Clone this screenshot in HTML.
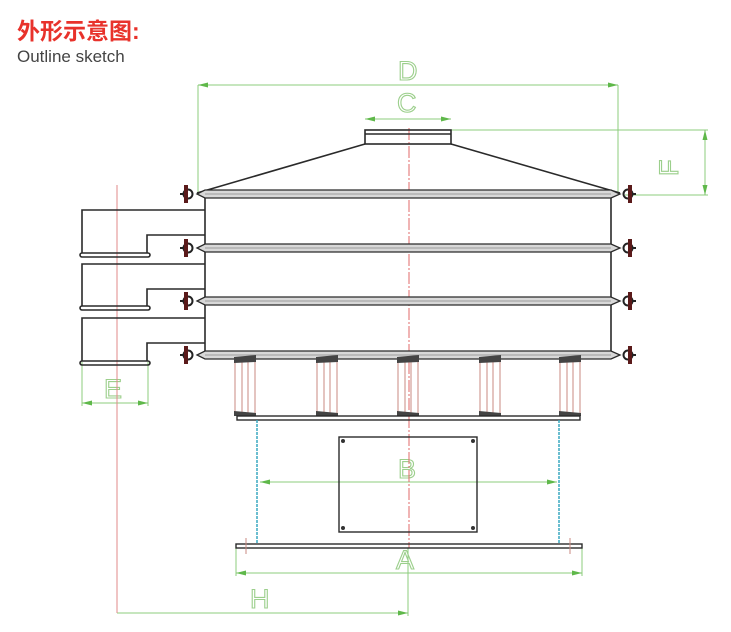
<!DOCTYPE html>
<html><head><meta charset="utf-8"><style>
html,body{margin:0;padding:0;background:#fff;width:731px;height:632px;overflow:hidden}
svg{display:block}
.t{font-family:"Liberation Sans","Noto Sans CJK SC",sans-serif}
.lbl{font-family:"Liberation Sans",sans-serif;font-size:27px;fill:none;stroke:#9ccf8c;stroke-width:1.1}
</style></head><body>
<svg width="731" height="632" viewBox="0 0 731 632" xmlns="http://www.w3.org/2000/svg">
<defs>
<marker id="ar" markerWidth="10" markerHeight="6" refX="10" refY="3" orient="auto-start-reverse" markerUnits="userSpaceOnUse"><path d="M0,0.5 L10,3 L0,5.5 Z" fill="#5fb84a"/></marker>
<g id="clampL"><circle cx="0" cy="0" r="4.5" fill="none" stroke="#222" stroke-width="2"/><rect x="-4" y="-9" width="4" height="18" fill="#5a1a1a"/><line x1="-8" y1="0" x2="-4" y2="0" stroke="#222" stroke-width="2"/></g>
<g id="spring"><rect x="-10" y="0" width="20" height="57" fill="none" stroke="#c98a80" stroke-width="1"/><line x1="-3" y1="0" x2="-3" y2="57" stroke="#c98a80"/><line x1="3" y1="0" x2="3" y2="57" stroke="#c98a80"/><path d="M-11,-1 L11,-3 L11,4 L-11,5 Z" fill="#444"/><path d="M-11,53 L11,55 L11,58 L-11,58 Z" fill="#444"/></g>
</defs>
<text x="17" y="39" class="t" font-size="23" font-weight="bold" fill="#e8322b">外形示意图:</text>
<text x="17" y="62" class="t" font-size="17" fill="#444">Outline sketch</text>

<g stroke="#8ccc7c" stroke-width="1" fill="none">
<line x1="198" y1="85" x2="198" y2="193"/><line x1="618" y1="85" x2="618" y2="193"/>
<line x1="198" y1="85" x2="618" y2="85" marker-start="url(#ar)" marker-end="url(#ar)"/>
<line x1="365" y1="119" x2="451" y2="119" marker-start="url(#ar)" marker-end="url(#ar)"/>
<line x1="451" y1="130" x2="708" y2="130"/><line x1="625" y1="195" x2="708" y2="195"/>
<line x1="705" y1="130" x2="705" y2="195" marker-start="url(#ar)" marker-end="url(#ar)"/>
<line x1="82" y1="362" x2="82" y2="406"/><line x1="148" y1="362" x2="148" y2="406"/>
<line x1="82" y1="403" x2="148" y2="403" marker-start="url(#ar)" marker-end="url(#ar)"/>
<line x1="260" y1="482" x2="557" y2="482" marker-start="url(#ar)" marker-end="url(#ar)"/>
<line x1="236" y1="548" x2="236" y2="576"/><line x1="582" y1="548" x2="582" y2="576"/>
<line x1="236" y1="573" x2="582" y2="573" marker-start="url(#ar)" marker-end="url(#ar)"/>
<line x1="408" y1="548" x2="408" y2="616"/>
<line x1="117" y1="613" x2="408" y2="613" marker-end="url(#ar)"/>
</g>
<text x="398" y="80" class="lbl">D</text>
<text x="397" y="112" class="lbl">C</text>
<text x="398" y="478" class="lbl">B</text>
<text x="396" y="569" class="lbl">A</text>
<text x="250" y="608" class="lbl">H</text>
<text x="104" y="398" class="lbl">E</text>
<text class="lbl" transform="translate(678,176) rotate(-90)">F</text>

<line x1="409" y1="128" x2="409" y2="548" stroke="#e06a6a" stroke-width="1" stroke-dasharray="12,2,2,2"/>
<line x1="117" y1="185" x2="117" y2="613" stroke="#e08a8a" stroke-width="1"/>

<g stroke="#2a2a2a" fill="none" stroke-width="1.6">
<rect x="365" y="130" width="86" height="14"/><line x1="365" y1="134" x2="451" y2="134"/>
<line x1="365" y1="144" x2="197" y2="193"/><line x1="451" y1="144" x2="620" y2="193"/>
<line x1="205" y1="193" x2="205" y2="355"/><line x1="611" y1="193" x2="611" y2="355"/>
</g>
<g stroke="#2a2a2a" stroke-width="1.3" fill="#d8d8d8">
<path d="M197,194 L205,190 L611,190 L620,194 L611,198 L205,198 Z"/>
<path d="M197,248 L205,244 L611,244 L620,248 L611,252 L205,252 Z"/>
<path d="M197,301 L205,297 L611,297 L620,301 L611,305 L205,305 Z"/>
<path d="M197,355 L205,351 L611,351 L620,355 L611,359 L205,359 Z"/>
</g>
<g stroke="#888" stroke-width="0.8"><line x1="205" y1="194" x2="611" y2="194"/><line x1="205" y1="248" x2="611" y2="248"/><line x1="205" y1="301" x2="611" y2="301"/><line x1="205" y1="355" x2="611" y2="355"/></g>
<g>
<use href="#clampL" transform="translate(188,194)"/><use href="#clampL" transform="translate(188,248)"/><use href="#clampL" transform="translate(188,301)"/><use href="#clampL" transform="translate(188,355)"/>
<use href="#clampL" transform="translate(628,194) scale(-1,1)"/><use href="#clampL" transform="translate(628,248) scale(-1,1)"/><use href="#clampL" transform="translate(628,301) scale(-1,1)"/><use href="#clampL" transform="translate(628,355) scale(-1,1)"/>
</g>

<g stroke="#2a2a2a" stroke-width="1.6" fill="none">
<path d="M205,210 L82,210 L82,253 M147,253 L147,235 L205,235"/>
<rect x="80" y="253" width="70" height="4" rx="2"/>
<path d="M205,264 L82,264 L82,306 M147,306 L147,289 L205,289"/>
<rect x="80" y="306" width="70" height="4" rx="2"/>
<path d="M205,318 L82,318 L82,361 M147,361 L147,343 L205,343"/>
<rect x="80" y="361" width="70" height="4" rx="2"/>
</g>

<use href="#spring" transform="translate(245,358)"/><use href="#spring" transform="translate(327,358)"/><use href="#spring" transform="translate(408,358)"/><use href="#spring" transform="translate(490,358)"/><use href="#spring" transform="translate(570,358)"/>

<g stroke="#2a2a2a" stroke-width="1.4" fill="none">
<rect x="237" y="416" width="343" height="4"/>
<rect x="236" y="544" width="346" height="4"/>
<rect x="339" y="437" width="138" height="95"/>
</g>
<g fill="#333"><circle cx="343" cy="441" r="2"/><circle cx="473" cy="441" r="2"/><circle cx="343" cy="528" r="2"/><circle cx="473" cy="528" r="2"/></g>
<g stroke="#3aa8c0" stroke-width="1.5" stroke-dasharray="3,1"><line x1="257" y1="420" x2="257" y2="544"/><line x1="559" y1="420" x2="559" y2="544"/></g>
<g stroke="#c98a80"><line x1="246" y1="538" x2="246" y2="554"/><line x1="570" y1="538" x2="570" y2="554"/></g>
</svg>
</body></html>
